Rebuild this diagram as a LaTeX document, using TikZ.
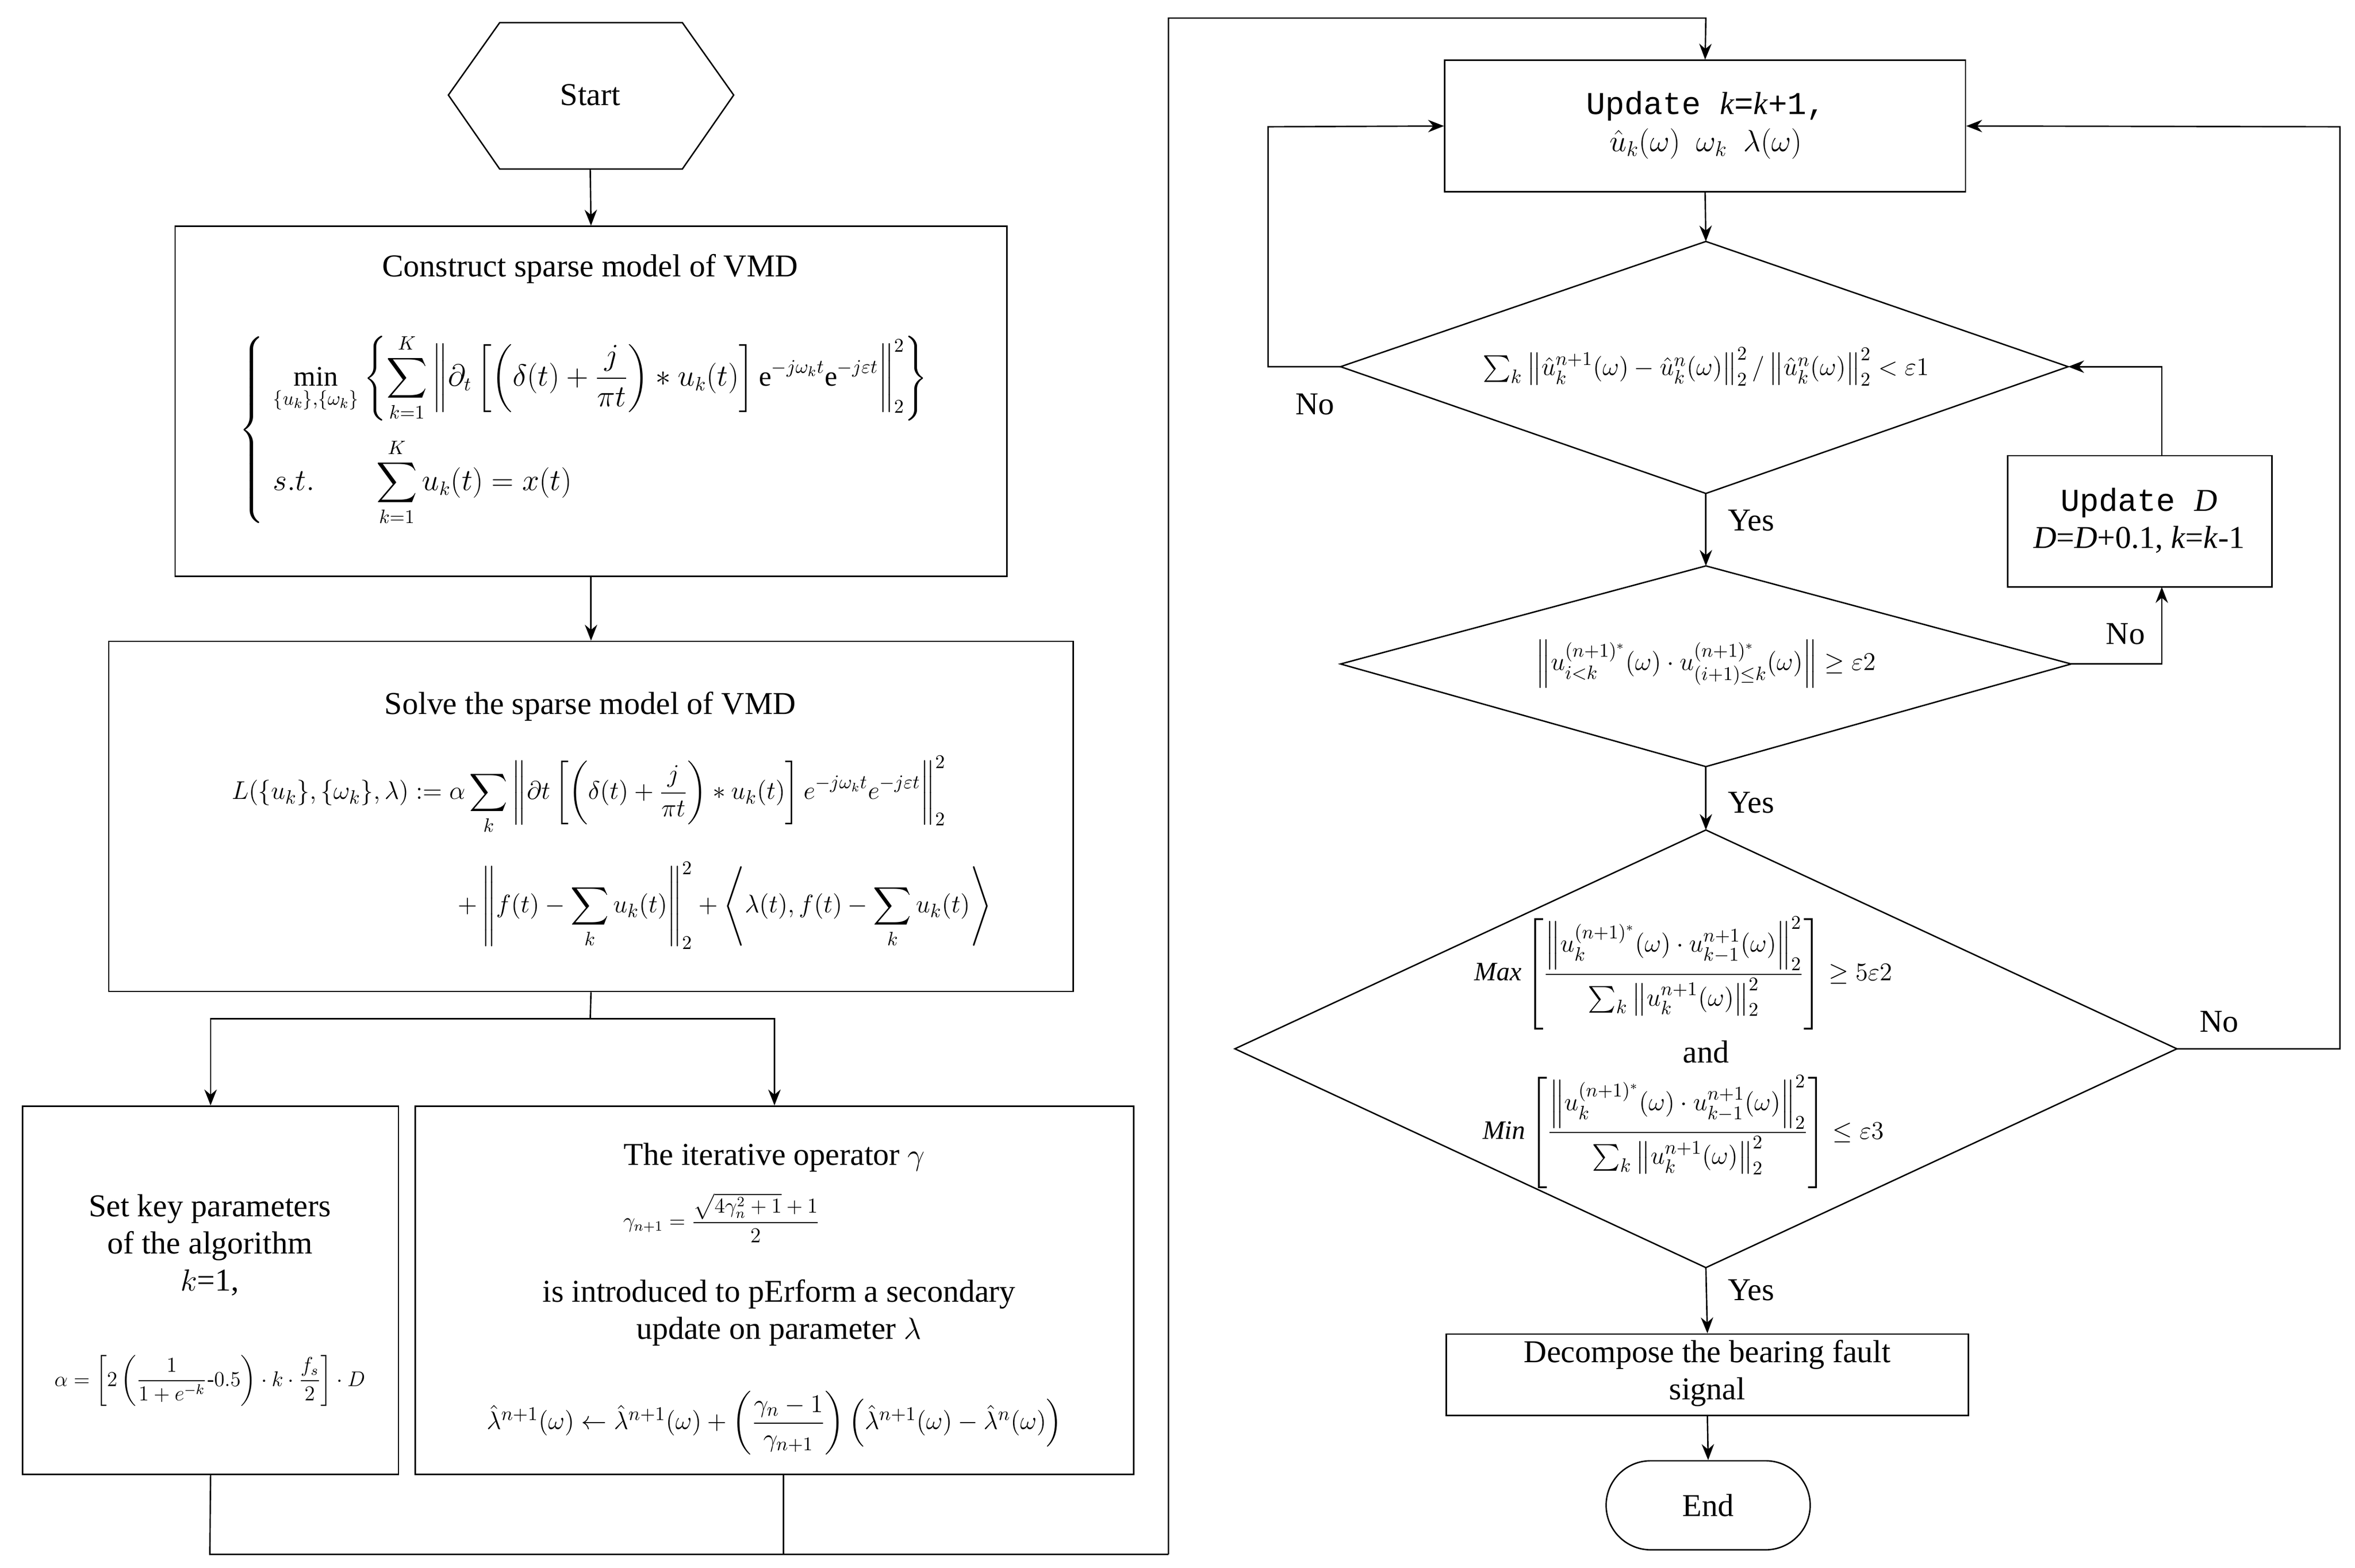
\documentclass[tikz,border=0pt]{standalone}
\usepackage{amsmath,amssymb}
\usepackage{fontspec}
\setmainfont{Liberation Serif}
\setmonofont{Liberation Mono}
\usetikzlibrary{shapes.geometric,shapes.misc,arrows.meta}
\begin{document}
\begin{tikzpicture}[x=0.3mm,y=-0.3mm,
  every node/.style={font=\fontsize{18}{21}\selectfont},
  box/.style={draw,line width=0.8pt},
  line/.style={line width=0.8pt},
  arr/.style={line width=0.8pt,-{Stealth[length=9pt,width=7pt]}},
  lab/.style={font=\fontsize{18}{21}\selectfont},
  mf/.style={font=\fontsize{15}{18}\selectfont}]
\useasboundingbox (0,0) rectangle (1560,1039);
% Start
\draw[line] (297,63)--(331,15)--(452,15)--(486,63)--(452,112)--(331,112)--cycle;
\node (start) at (391,63) {Start};
\coordinate (startb) at (391,112);
% box1
\node[box,minimum width=551*0.3mm,minimum height=232*0.3mm] (b1) at (391.5,266) {};
\node at (391,178) {Construct sparse model of VMD};
\node[font=\fontsize{16}{19}\selectfont] at (390,285) {$\left\{\begin{array}{l} \displaystyle\min_{\{u_k\},\{\omega_k\}} \left\{\sum_{k=1}^K \left\|\partial_t\left[\left(\delta(t)+\frac{j}{\pi t}\right)*u_k(t)\right]\mathrm{e}^{-j\omega_k t}\mathrm{e}^{-j\varepsilon t}\right\|_2^2\right\}\\[24pt] \displaystyle s.t.\qquad \sum_{k=1}^K u_k(t)=x(t)\end{array}\right.$};
% box2
\node[box,minimum width=639*0.3mm,minimum height=232*0.3mm] (b2) at (391.5,541) {};
\node at (391,468) {Solve the sparse model of VMD};
\node[mf] at (390,527) {$\displaystyle L(\{u_k\},\{\omega_k\},\lambda):=\alpha\sum_k\left\|\partial t\left[\left(\delta(t)+\frac{j}{\pi t}\right)*u_k(t)\right]e^{-j\omega_k t}e^{-j\varepsilon t}\right\|_2^2$};
\node[mf] at (480,600) {$\displaystyle +\left\|f(t)-\sum_k u_k(t)\right\|_2^2+\left\langle\lambda(t),f(t)-\sum_k u_k(t)\right\rangle$};
% box3
\node[box,minimum width=249*0.3mm,minimum height=244*0.3mm] (b3) at (139.5,855) {};
\node[align=center] at (139,825) {Set key parameters\\of the algorithm\\$k$=1,};
\node[font=\fontsize{12}{14}\selectfont] at (139,915) {$\alpha=\left[2\left(\dfrac{1}{1+e^{-k}}\text{-}0.5\right)\cdot k\cdot\dfrac{f_s}{2}\right]\cdot D$};
% box4
\node[box,minimum width=476*0.3mm,minimum height=244*0.3mm] (b4) at (513,855) {};
\node at (513,767) {The iterative operator $\gamma$};
\node[font=\fontsize{12}{14}\selectfont] at (478,807) {$\gamma_{n+1}=\dfrac{\sqrt{4\gamma_n^2+1}+1}{2}$};
\node[align=center] at (516,870) {is introduced to pErform a secondary\\update on parameter $\lambda$};
\node[mf] at (513,943) {$\hat\lambda^{n+1}(\omega)\leftarrow\hat\lambda^{n+1}(\omega)+\left(\dfrac{\gamma_n-1}{\gamma_{n+1}}\right)\left(\hat\lambda^{n+1}(\omega)-\hat\lambda^{n}(\omega)\right)$};
% left connectors
\draw[arr] (startb)--(b1.north);
\draw[arr] (b1.south)--(b2.north);
\coordinate (sp) at (391,675);
\draw[line] (b2.south)--(sp);
\draw[arr] (sp)-|(b3.north);
\draw[arr] (sp)-|(b4.north);
\coordinate (m1) at (139,1030); \coordinate (m2) at (774,1030);
\coordinate (m3) at (774,12); \coordinate (m4) at (1130,12);
\draw[line] (b3.south)--(m1)--(m2);
\coordinate (b4s) at (519,977); \coordinate (b4m) at (519,1030);
\draw[line] (b4s)--(b4m);
% right column
\node[box,minimum width=345*0.3mm,minimum height=87*0.3mm] (up) at (1129.5,83.5) {};
\node[align=center] at (1130,83) {\ttfamily Update \textit{\rmfamily k}=\textit{\rmfamily k}+1,\\$\hat u_k(\omega)\ \ \omega_k\ \ \lambda(\omega)$};
\draw[arr] (m2)--(m3)--(m4)--(up.north);
% diamond1
\coordinate (d1t) at (1130,160); \coordinate (d1b) at (1130,327);
\coordinate (d1l) at (888,243); \coordinate (d1r) at (1370,243);
\draw[line] (d1t)--(d1r)--(d1b)--(d1l)--cycle;
\node[mf] (d1) at (1130,243) {$\sum\nolimits_k\left\|\hat u_k^{n+1}(\omega)-\hat u_k^{n}(\omega)\right\|_2^2/\left\|\hat u_k^{n}(\omega)\right\|_2^2<\varepsilon 1$};
\draw[arr] (up.south)--(d1t);
\coordinate (n1a) at (840,243); \coordinate (n1b) at (840,84);
\draw[arr] (d1l)--(n1a)--(n1b)--(up.west);
\node[lab] at (871,268) {No};
% diamond2
\coordinate (d2t) at (1130,375); \coordinate (d2b) at (1130,508);
\coordinate (d2l) at (888,440); \coordinate (d2r) at (1372,440);
\draw[line] (d2t)--(d2r)--(d2b)--(d2l)--cycle;
\node[mf] (d2) at (1130,440) {$\left\|u_{i<k}^{(n+1)^*}(\omega)\cdot u_{(i+1)\le k}^{(n+1)^*}(\omega)\right\|\ge\varepsilon 2$};
\draw[arr] (d1b)--(d2t);
\node[lab] at (1160,345) {Yes};
% update D
\node[box,minimum width=175*0.3mm,minimum height=87*0.3mm] (ud) at (1417.5,345.5) {};
\node[align=center] at (1417,345) {\ttfamily Update \textit{\rmfamily D}\\\textit{D}=\textit{D}+0.1, \textit{k}=\textit{k}-1};
\coordinate (n2a) at (1432,440); \coordinate (udb) at (1432,389);
\draw[arr] (d2r)--(n2a)--(udb);
\coordinate (udt) at (1432,302); \coordinate (n2c) at (1432,243);
\draw[arr] (udt)--(n2c)--(d1r);
\node[lab] at (1408,420) {No};
% diamond3
\coordinate (d3t) at (1130,550); \coordinate (d3b) at (1130,840);
\coordinate (d3l) at (818,695); \coordinate (d3r) at (1442,695);
\draw[line] (d3t)--(d3r)--(d3b)--(d3l)--cycle;
\draw[arr] (d2b)--(d3t);
\node[lab] at (1160,532) {Yes};
\node[mf] at (1115,645) {$\mathit{Max}\left[\dfrac{\left\|u_k^{(n+1)^*}(\omega)\cdot u_{k-1}^{n+1}(\omega)\right\|_2^2}{\sum\nolimits_k\left\|u_k^{n+1}(\omega)\right\|_2^2}\right]\ge 5\varepsilon 2$};
\node[lab] at (1130,697) {and};
\node[mf] at (1115,750) {$\mathit{Min}\left[\dfrac{\left\|u_k^{(n+1)^*}(\omega)\cdot u_{k-1}^{n+1}(\omega)\right\|_2^2}{\sum\nolimits_k\left\|u_k^{n+1}(\omega)\right\|_2^2}\right]\le \varepsilon 3$};
\coordinate (n3a) at (1550,695); \coordinate (n3b) at (1550,84);
\draw[arr] (d3r)--(n3a)--(n3b)--(up.east);
\node[lab] at (1470,677) {No};
% decompose
\node[box,minimum width=346*0.3mm,minimum height=54*0.3mm] (dec) at (1131,911) {};
\node[align=center] at (1131,910) {Decompose the bearing fault\\signal};
\draw[arr] (d3b)--(dec.north);
\node[lab] at (1160,855) {Yes};
% end
\node[draw,line width=0.8pt,rounded rectangle,minimum width=143*0.3mm,minimum height=59*0.3mm] (end) at (1131.5,997.5) {End};
\draw[arr] (dec.south)--(end.north);
\end{tikzpicture}
\end{document}
